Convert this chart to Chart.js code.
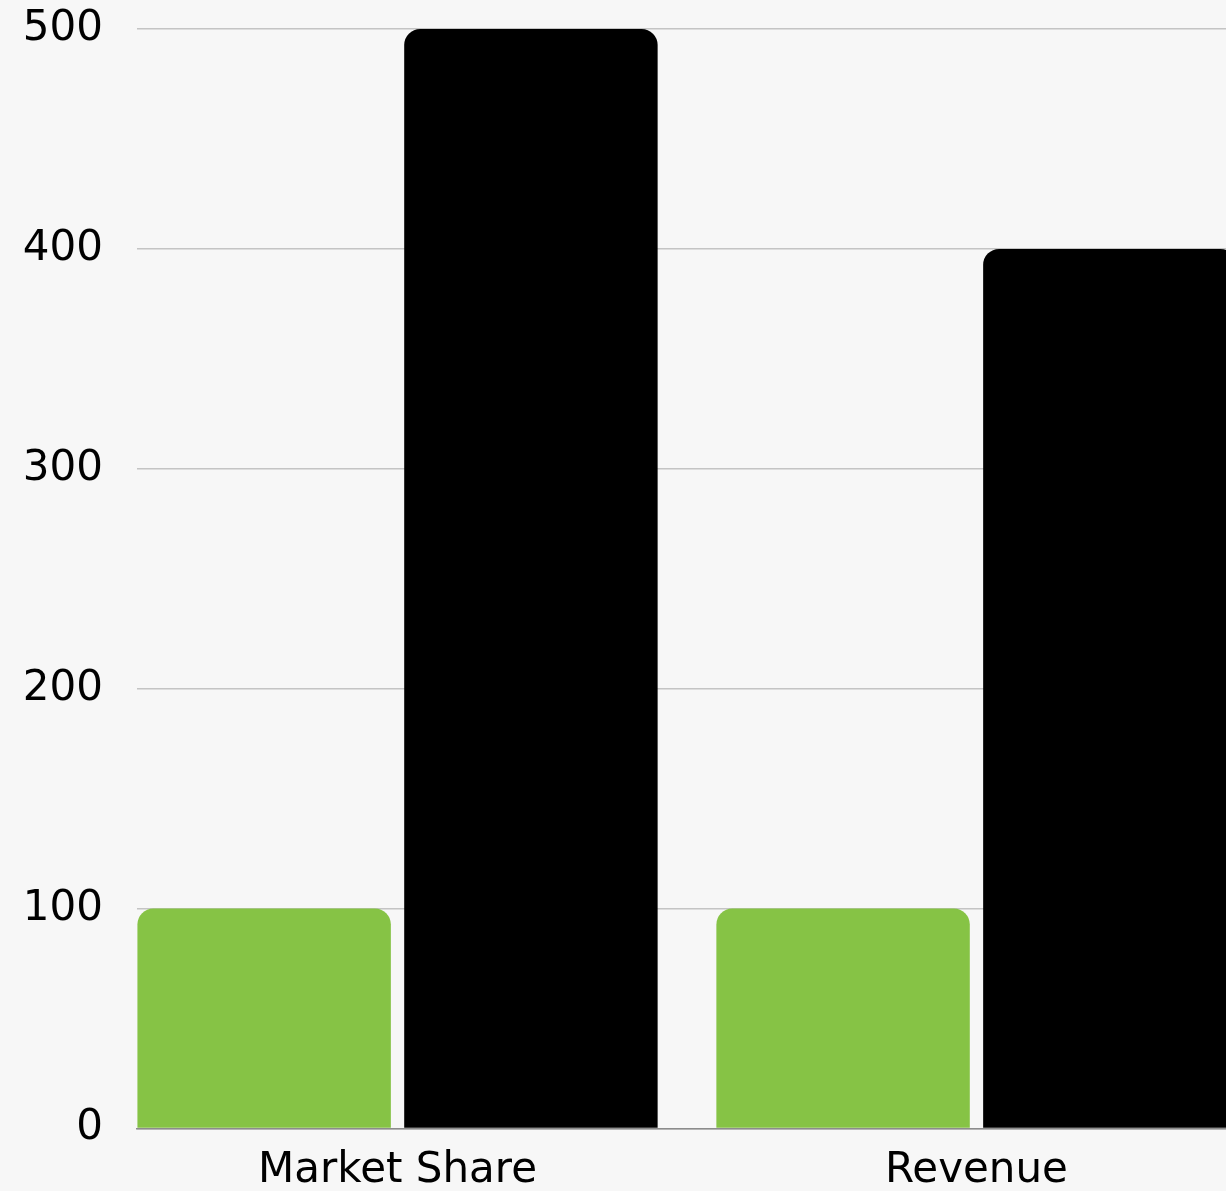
<!DOCTYPE html>
<html>
<head>
<meta charset="utf-8">
<title>Market Share and Revenue</title>
<script src="https://cdn.jsdelivr.net/npm/chart.js@4"></script>
<style>
  html, body { margin: 0; padding: 0; background: #f7f7f7; overflow: hidden; }
  #wrap { width: 1237px; height: 1200px; }
</style>
</head>
<body>
<div id="wrap"><canvas id="chart" width="1237" height="1200"></canvas></div>
<script>
// Categories along the x axis
const categories = ['Market Share', 'Revenue'];
// Two series per category
const seriesGreen = [100, 100];
const seriesBlack = [500, 400];
// Value axis ticks
const yTicks = [0, 100, 200, 300, 400, 500];

const FONT = '"DejaVu Sans", "Noto Sans", sans-serif';

// Category positions are placed on a numeric index axis so the group layout can be tuned
const toPoints = (vals) => vals.map((v, i) => ({ x: i, y: v }));

new Chart(document.getElementById('chart'), {
  type: 'bar',
  data: {
    datasets: [
      {
        label: 'Series A',
        data: toPoints(seriesGreen),
        backgroundColor: '#86c345',
        borderRadius: 16,
        borderSkipped: 'start'
      },
      {
        label: 'Series B',
        data: toPoints(seriesBlack),
        backgroundColor: '#000000',
        borderRadius: 16,
        borderSkipped: 'start'
      }
    ]
  },
  options: {
    responsive: false,
    animation: false,
    devicePixelRatio: 1,
    categoryPercentage: 0.9216,
    barPercentage: 0.95,
    layout: { padding: { top: 29, left: 0, right: 0, bottom: 0 } },
    plugins: {
      legend: { display: false },
      tooltip: { enabled: false }
    },
    scales: {
      x: {
        type: 'linear',
        bounds: 'data',
        offset: false,
        min: -0.45,
        max: 1.45,
        grid: { display: false, drawTicks: false, offset: false },
        border: { display: true, color: '#8c8c8c', width: 1.5 },
        ticks: {
          autoSkip: false,
          maxRotation: 0,
          padding: 17,
          color: '#000000',
          font: { family: FONT, size: 42 },
          callback: (v) => (categories[v] !== undefined ? categories[v] : '')
        },
        afterBuildTicks: (scale) => { scale.ticks = categories.map((c, i) => ({ value: i })); },
        afterFit: (scale) => {
          scale.height = 1200 - 1128.5;
          scale.paddingLeft = 0;
          scale.paddingRight = 0;
        }
      },
      y: {
        min: yTicks[0],
        max: yTicks[yTicks.length - 1],
        grid: { color: '#c4c4c4', lineWidth: 1.5, drawTicks: false },
        border: { display: false },
        ticks: {
          padding: 34,
          color: '#000000',
          font: { family: FONT, size: 42 }
        },
        afterBuildTicks: (scale) => { scale.ticks = yTicks.map((v) => ({ value: v })); },
        afterFit: (scale) => {
          scale.width = 137;
          scale.paddingTop = 0;
          scale.paddingBottom = 0;
        }
      }
    }
  }
});
</script>
</body>
</html>
